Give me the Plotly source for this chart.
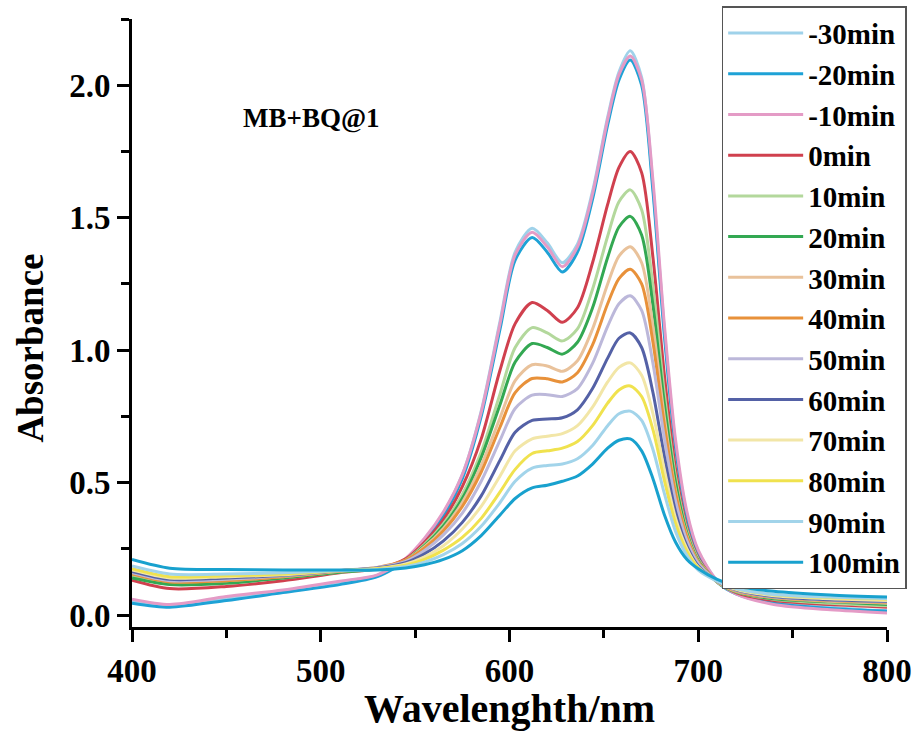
import plotly.graph_objects as go

# Wavelength grid (nm) shared by every spectrum
wavelength = [400, 420, 450, 480, 510, 530, 545, 555, 565, 575, 585, 595, 603, 612, 620, 628,
              636, 644, 652, 658, 664, 670, 676, 682, 688, 694, 700, 710, 720, 740, 770, 800]

labels = ["-30min", "-20min", "-10min", "0min", "10min", "20min", "30min", "40min",
          "50min", "60min", "70min", "80min", "90min", "100min"]

colors = ["#9FD2EA", "#1EA2D6", "#E49BC6", "#D0404E", "#B3D89C", "#33A852", "#E9C29B",
          "#E8913A", "#BCB8DA", "#5461A6", "#F2E6A7", "#F0E24E", "#A2D4EA", "#18A1CE"]

a_m30 = [.050, .035, .062, .090, .125, .150, .210, .285, .385, .530, .770, 1.11, 1.37, 1.46, 1.405, 1.33,
         1.40, 1.60, 1.88, 2.05, 2.13, 2.03, 1.62, 1.08, .64, .38, .24, .13, .085, .050, .030, .015]
a_m20 = [.045, .030, .055, .085, .115, .145, .205, .278, .375, .515, .750, 1.08, 1.34, 1.425, 1.37, 1.295,
         1.37, 1.57, 1.85, 2.02, 2.095, 2.00, 1.60, 1.06, .63, .37, .235, .125, .080, .045, .025, .015]
a_m10 = [.060, .040, .070, .095, .128, .152, .214, .290, .390, .530, .765, 1.10, 1.36, 1.445, 1.39, 1.315,
         1.39, 1.59, 1.87, 2.04, 2.11, 2.02, 1.64, 1.10, .66, .39, .245, .130, .080, .040, .020, .008]
a_0 = [.132, .100, .108, .130, .160, .175, .212, .275, .360, .485, .665, .925, 1.10, 1.18, 1.15, 1.105,
       1.16, 1.33, 1.55, 1.69, 1.75, 1.67, 1.35, .91, .55, .33, .215, .125, .085, .055, .040, .030]
a_10 = [.150, .120, .125, .140, .163, .175, .208, .267, .345, .455, .615, .835, 1.01, 1.085, 1.065, 1.035,
        1.08, 1.23, 1.43, 1.56, 1.605, 1.53, 1.24, .84, .52, .32, .210, .125, .088, .060, .045, .035]
a_20 = [.140, .115, .120, .140, .162, .175, .207, .262, .336, .440, .595, .795, .955, 1.025, 1.01, .985,
        1.03, 1.16, 1.35, 1.465, 1.505, 1.435, 1.17, .80, .50, .31, .205, .125, .088, .062, .050, .040]
a_30 = [.165, .130, .130, .145, .165, .178, .207, .258, .327, .425, .565, .745, .885, .945, .940, .920,
        .960, 1.08, 1.25, 1.355, 1.39, 1.33, 1.09, .75, .47, .30, .200, .125, .090, .065, .052, .045]
a_40 = [.155, .125, .130, .145, .167, .180, .207, .253, .318, .410, .540, .710, .840, .893, .892, .880,
        .915, 1.02, 1.175, 1.27, 1.305, 1.25, 1.03, .72, .46, .295, .200, .128, .092, .066, .055, .048]
a_50 = [.160, .130, .135, .148, .168, .180, .203, .244, .303, .385, .505, .660, .780, .830, .832, .825,
        .855, .950, 1.09, 1.175, 1.205, 1.15, .95, .67, .43, .280, .195, .128, .093, .068, .057, .050]
a_60 = [.165, .135, .140, .150, .168, .178, .198, .231, .280, .350, .450, .585, .690, .735, .740, .745,
        .775, .855, .970, 1.045, 1.065, 1.01, .84, .60, .39, .260, .185, .128, .095, .070, .058, .052]
a_70 = [.170, .140, .145, .152, .168, .176, .193, .220, .262, .325, .410, .525, .620, .665, .675, .685,
        .715, .785, .880, .935, .952, .905, .76, .55, .365, .250, .180, .130, .097, .073, .062, .055]
a_80 = [.175, .145, .148, .155, .168, .175, .188, .210, .245, .293, .365, .465, .550, .610, .620, .630,
        .655, .715, .800, .850, .865, .825, .70, .51, .345, .240, .178, .130, .100, .077, .066, .060]
a_90 = [.185, .155, .155, .160, .168, .172, .183, .200, .228, .270, .335, .425, .505, .555, .565, .570,
        .590, .640, .715, .760, .770, .735, .625, .46, .315, .225, .170, .128, .100, .078, .068, .062]
a_100 = [.210, .177, .172, .170, .170, .170, .178, .190, .210, .243, .300, .378, .440, .480, .490, .505,
         .525, .570, .630, .660, .665, .620, .515, .38, .275, .210, .175, .135, .110, .090, .076, .068]

spectra = [a_m30, a_m20, a_m10, a_0, a_10, a_20, a_30, a_40, a_50, a_60, a_70, a_80, a_90, a_100]

SERIF = "Times New Roman, Liberation Serif, serif"

fig = go.Figure()
for name, col, ys in zip(labels, colors, spectra):
    fig.add_trace(go.Scatter(
        x=wavelength, y=ys, mode="lines", name=name, legendgroup=name,
        line=dict(color=col, width=3, shape="spline", smoothing=0.8),
    ))

axis_common = dict(
    showline=True, linewidth=3, linecolor="black", mirror=False,
    ticks="outside", ticklen=12, tickwidth=3, tickcolor="black",
    showgrid=False, zeroline=False,
    tickfont=dict(family=SERIF, size=33, color="black", weight="bold"),
)

fig.update_xaxes(
    range=[400, 800], dtick=100, tick0=400,
    minor=dict(dtick=50, ticks="outside", ticklen=8, tickwidth=3, tickcolor="black"),
    title=dict(text="Wavelenghth/nm", standoff=10,
               font=dict(family=SERIF, size=40, color="black", weight="bold")),
    **axis_common,
)
fig.update_yaxes(
    range=[-0.045, 2.25], dtick=0.5, tick0=0, tickformat=".1f",
    minor=dict(dtick=0.25, ticks="outside", ticklen=8, tickwidth=3, tickcolor="black"),
    **axis_common,
)

# y-axis title placed as rotated text, a little below the axis midpoint
fig.add_annotation(
    x=-0.135, y=0.458, xref="paper", yref="paper", xanchor="center", yanchor="middle",
    text="Absorbance", textangle=-90, showarrow=False,
    font=dict(family=SERIF, size=37, color="black", weight="bold"),
)

fig.add_annotation(
    x=0.238, y=0.837, xref="paper", yref="paper", xanchor="center", yanchor="middle",
    text="MB+BQ@1", showarrow=False,
    font=dict(family=SERIF, size=27, color="black", weight="bold"),
)

fig.update_layout(
    width=918, height=731,
    margin=dict(l=132, r=31, t=19, b=104, autoexpand=False),
    paper_bgcolor="white", plot_bgcolor="white",
    showlegend=True,
    legend=dict(
        x=0.781, y=1.021, xanchor="left", yanchor="top",
        bgcolor="white", bordercolor="#555555", borderwidth=1.5,
        font=dict(family=SERIF, size=29, color="black", weight="bold"),
        itemwidth=75, tracegroupgap=2.4, traceorder="normal",
        maxheight=700,
    ),
)

fig.write_html("out.html")
